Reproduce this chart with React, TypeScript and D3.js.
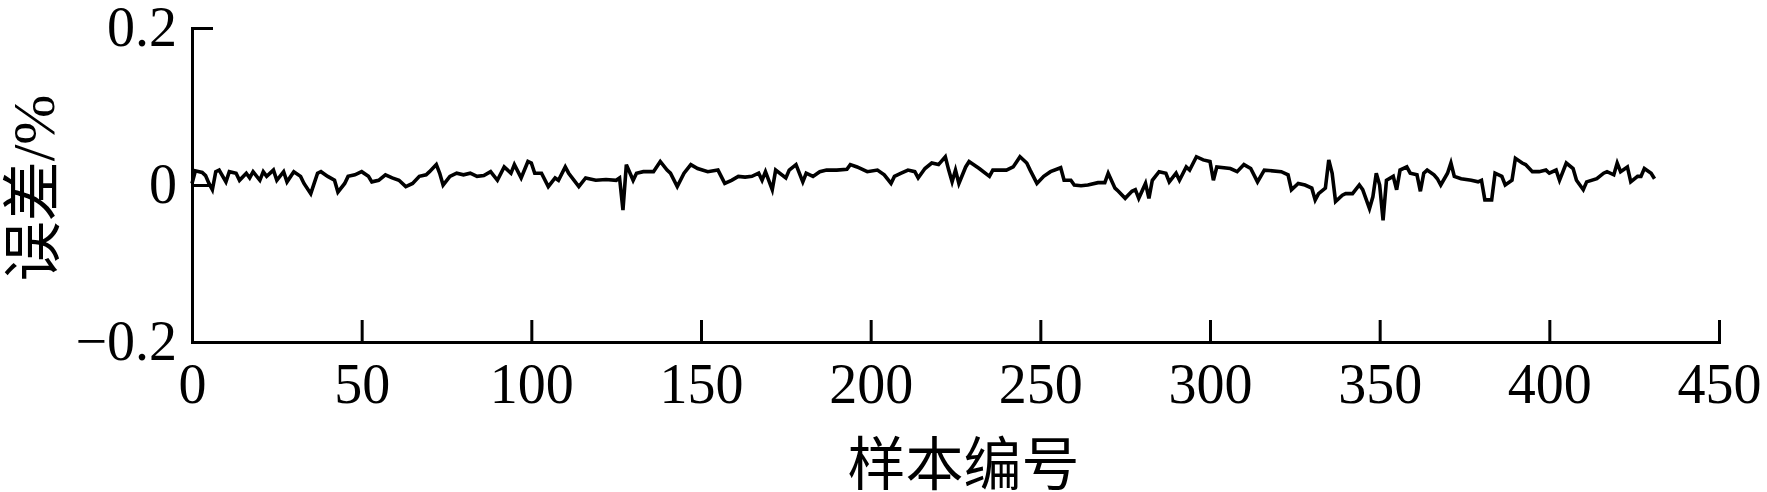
import React, { useEffect, useRef } from 'react';
import * as d3 from 'd3';

const WIDTH = 1767;
const HEIGHT = 492;
const MARGIN = { top: 28, right: 48, bottom: 150, left: 192 };

// x ticks / y ticks
const xTicks = [0, 50, 100, 150, 200, 250, 300, 350, 400, 450];
const yTicks = [-0.2, 0, 0.2];
const yTickLabels = ['\u22120.2', '0', '0.2'];

const xLabel = '样本编号';
const yLabel = '误差/%';

// digitised vertices of the error curve (sample no. -> error %)
const sampleNo = [
  0, 1, 3, 4, 5, 6, 7, 8, 10, 11, 13, 14, 16, 17, 18, 20, 21, 22, 24, 25, 27, 28, 30, 32, 33, 35, 36, 37, 38, 40,
  42, 43, 45, 46, 48, 50, 52, 53, 55, 57, 59, 61, 63, 65, 67, 69, 70, 72, 73, 74, 76, 78, 80, 82, 84,
  86, 88, 90, 92, 94, 95, 97, 99, 100, 101, 103, 105, 107, 108, 110, 111, 114, 116, 119, 122, 125, 126, 127, 128,
  130, 131, 133, 136, 138, 140, 141, 143, 145, 147, 149, 152, 155, 157, 159, 161, 163, 165, 167, 168, 169,
  171, 172, 175, 176, 178, 180, 181, 183, 185, 187, 190, 193, 194, 196, 199, 202, 204, 206, 207, 209, 211, 213,
  214, 216, 218, 220, 222, 223, 224, 225, 226, 228, 229, 232, 235, 236, 240, 242, 244, 246, 247, 249, 251, 253,
  256, 257, 259, 260, 262, 264, 267, 269, 270, 272, 273, 275, 277, 278, 279, 281, 282, 283, 285, 287, 288, 290,
  291, 293, 294, 296, 298, 300, 301, 302, 306, 308, 310, 312, 314, 316, 321, 323, 324, 326, 328, 330, 331, 332,
  334, 335, 336, 337, 339, 340,
  342, 344, 345, 347, 348, 349, 350, 351, 352, 354, 355, 356, 358, 359, 361, 362, 363, 364, 366, 367, 368, 370,
  371, 372, 374, 377, 379, 380, 381, 383, 384, 386, 387, 389, 390, 392, 393, 395, 397, 399, 400, 402, 403, 405,
  407, 408, 410, 411, 414, 416, 417, 419, 420, 421, 423, 424, 426, 427, 428, 430, 431,
];

const errorPct = [
  0.002, 0.018, 0.016, 0.012, 0.002, -0.006, 0.017, 0.019, 0.004, 0.017, 0.015, 0.006, 0.015, 0.009, 0.017, 0.006,
  0.017, 0.011, 0.019, 0.006, 0.017, 0.004, 0.017, 0.011, 0.002, -0.011, 0.002, 0.015, 0.017, 0.011,
  0.006, -0.009, 0.002, 0.011, 0.013, 0.017, 0.011, 0.004, 0.006, 0.013, 0.009, 0.006, -0.002, 0.002, 0.011, 0.013,
  0.017, 0.026, 0.015, 0.0, 0.011, 0.015, 0.013, 0.015, 0.011,
  0.012, 0.017, 0.006, 0.023, 0.015, 0.026, 0.009, 0.030, 0.028, 0.015, 0.015, -0.002, 0.009, 0.006, 0.023, 0.015,
  -0.002, 0.009, 0.006, 0.007, 0.006, 0.009, -0.032, 0.026,
  0.006, 0.015, 0.017, 0.017, 0.030, 0.019, 0.015, -0.002, 0.015, 0.026, 0.021, 0.017, 0.019, 0.002, 0.006, 0.011,
  0.010, 0.011, 0.015, 0.006, 0.017,
  -0.006, 0.019, 0.009, 0.019, 0.026, 0.004, 0.015, 0.011, 0.017, 0.019, 0.019, 0.020, 0.026, 0.023, 0.017, 0.019,
  0.013, 0.002, 0.011, 0.015, 0.019, 0.017,
  0.009, 0.021, 0.028, 0.026, 0.036, 0.019, 0.004, 0.019, 0.002, 0.023, 0.030, 0.021, 0.011, 0.019, 0.019, 0.023,
  0.036, 0.028, 0.019, 0.002, 0.011, 0.017,
  0.022, 0.006, 0.006, 0.0, -0.001, 0.0, 0.003, 0.003, 0.015, -0.004, -0.008, -0.017, -0.008, -0.006, -0.017, 0.002,
  -0.017, 0.006, 0.017, 0.015, 0.004, 0.015,
  0.006, 0.023, 0.019, 0.036, 0.032, 0.030, 0.006, 0.023, 0.021, 0.017, 0.026, 0.021, 0.004, 0.019, 0.017, 0.013,
  -0.006, 0.002, 0.0, -0.004, -0.019, -0.011,
  -0.004, 0.032, 0.015, -0.021, -0.013, -0.011,
  -0.011, 0.0, -0.006, -0.030, -0.015, 0.015, 0.0, -0.045, 0.006, 0.011, -0.006, 0.019, 0.023, 0.015, 0.013, -0.008,
  0.015, 0.019, 0.013, 0.008, 0.0, 0.015,
  0.028, 0.011, 0.008, 0.006, 0.004, 0.006, -0.019, -0.019, 0.015, 0.011, 0.0, 0.006, 0.034, 0.028, 0.026, 0.017,
  0.017, 0.019, 0.015, 0.019, 0.006, 0.028,
  0.021, 0.006, -0.006, 0.004, 0.008, 0.015, 0.017, 0.013, 0.028, 0.017, 0.023, 0.004, 0.011, 0.011, 0.021, 0.015,
  0.008,
];

const SERIF = '"Times New Roman", "Liberation Serif", "Noto Sans CJK SC", serif';

const ErrorChart: React.FC = () => {
  const svgRef = useRef<SVGSVGElement>(null);

  useEffect(() => {
    const svg = d3.select(svgRef.current);
    svg.selectAll('*').remove();

    const x0 = MARGIN.left;
    const x1 = WIDTH - MARGIN.right;
    const y0 = HEIGHT - MARGIN.bottom;
    const y1 = MARGIN.top;

    const xScale = d3.scaleLinear().domain([0, 450]).range([x0, x1]);
    const yScale = d3.scaleLinear().domain([-0.2, 0.2]).range([y0, y1]);

    const data = sampleNo.map((s, i) => ({ s, v: errorPct[i] }));

    // curve
    const line = d3.line<{ s: number; v: number }>()
      .x(d => xScale(d.s))
      .y(d => yScale(d.v));

    svg.append('path')
      .datum(data)
      .attr('fill', 'none')
      .attr('stroke', '#000')
      .attr('stroke-width', 3.6)
      .attr('stroke-linejoin', 'miter')
      .attr('d', line);

    // x axis, ticks pointing inward
    const xAxis = d3.axisBottom(xScale)
      .tickValues(xTicks)
      .tickSizeInner(-22)
      .tickSizeOuter(0)
      .tickPadding(21)
      .tickFormat(d3.format('d'));

    const gx = svg.append('g')
      .attr('transform', `translate(0,${y0})`)
      .call(xAxis);
    gx.selectAll('text').attr('font-size', 56).attr('font-family', SERIF).attr('fill', '#000');

    // y axis
    const yAxis = d3.axisLeft(yScale)
      .tickValues(yTicks)
      .tickSizeInner(-21)
      .tickSizeOuter(0)
      .tickPadding(15)
      .tickFormat((d, i) => yTickLabels[i]);

    const gy = svg.append('g')
      .attr('transform', `translate(${x0},0)`)
      .call(yAxis);
    gy.selectAll('text').attr('font-size', 56).attr('font-family', SERIF).attr('fill', '#000');

    [gx, gy].forEach(g => {
      g.select('.domain').attr('stroke', '#000').attr('stroke-width', 3).attr('stroke-linecap', 'square');
      g.selectAll('.tick line').attr('stroke', '#000').attr('stroke-width', 3);
    });

    // axis titles
    svg.append('text')
      .attr('x', (x0 + x1) / 2 + 8)
      .attr('y', 485)
      .attr('text-anchor', 'middle')
      .attr('font-family', SERIF)
      .attr('font-size', 58)
      .attr('fill', '#000')
      .text(xLabel);

    svg.append('text')
      .attr('transform', `translate(34,${(y0 + y1) / 2 + 3}) rotate(-90)`)
      .attr('text-anchor', 'middle')
      .attr('dominant-baseline', 'central')
      .attr('font-family', SERIF)
      .attr('font-size', 60)
      .attr('fill', '#000')
      .text(yLabel);
  }, []);

  return (
    <svg
      ref={svgRef}
      width={WIDTH}
      height={HEIGHT}
      style={{ position: 'absolute', left: 0, top: 0, background: '#fff' }}
    />
  );
};

export default function App() {
  return <ErrorChart />;
}
